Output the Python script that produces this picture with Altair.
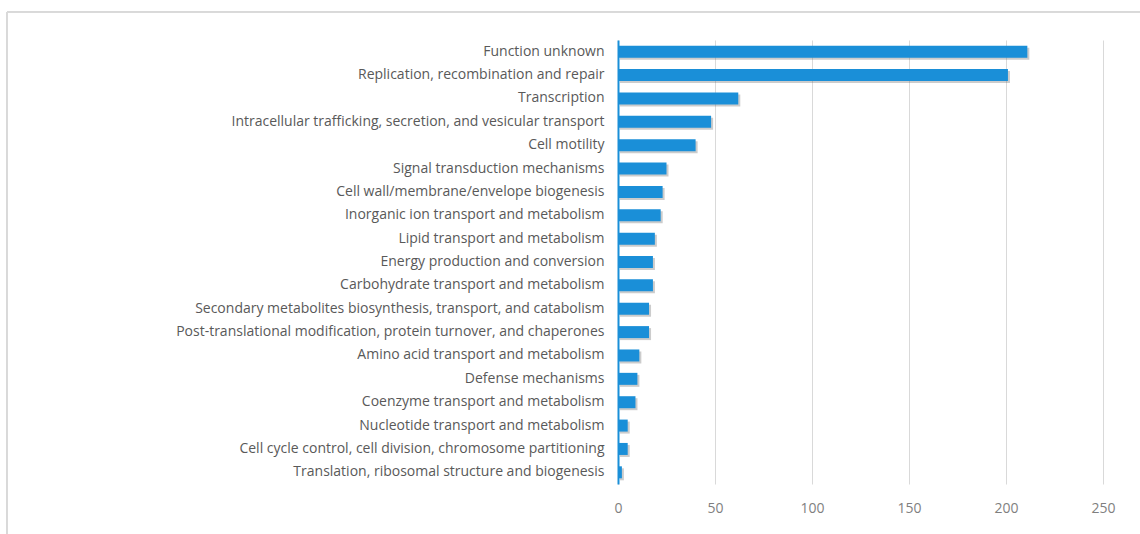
import altair as alt
import pandas as pd

# COG functional categories and gene counts (top to bottom)
categories = [
    "Function unknown",
    "Replication, recombination and repair",
    "Transcription",
    "Intracellular trafficking, secretion, and vesicular transport",
    "Cell motility",
    "Signal transduction mechanisms",
    "Cell wall/membrane/envelope biogenesis",
    "Inorganic ion transport and metabolism",
    "Lipid transport and metabolism",
    "Energy production and conversion",
    "Carbohydrate transport and metabolism",
    "Secondary metabolites biosynthesis, transport, and catabolism",
    "Post-translational modification, protein turnover, and chaperones",
    "Amino acid transport and metabolism",
    "Defense mechanisms",
    "Coenzyme transport and metabolism",
    "Nucleotide transport and metabolism\u00a0\u00a0",
    "Cell cycle control, cell division, chromosome partitioning",
    "Translation, ribosomal structure and biogenesis",
]
counts = [211, 201, 62, 48, 40, 25, 23, 22, 19, 18, 18, 16, 16, 11, 10, 9, 5, 5, 2]
x_ticks = [0, 50, 100, 150, 200, 250]

df = pd.DataFrame({"category": categories, "count": counts})

FONT = "Open Sans"
W, H = 485, 444

y_scale = alt.Scale(paddingInner=0.48, paddingOuter=0.24)
x_scale = alt.Scale(domain=[0, 250], nice=False)

# soft drop shadow under each bar
shadow = alt.Chart(df).mark_bar(
    color="#6e6e6e", opacity=0.35, xOffset=2, yOffset=2, height=12
).encode(
    x=alt.X("count:Q", scale=x_scale),
    y=alt.Y("category:N", sort=categories, scale=y_scale),
)

bars = alt.Chart(df).mark_bar(color="#1a8fd8", height=12).encode(
    x=alt.X("count:Q", scale=x_scale, title=None,
            axis=alt.Axis(values=x_ticks, grid=True, gridColor="#d9d9d9",
                          domain=False, ticks=False, labelPadding=17,
                          labelFlush=False, labelFontSize=14,
                          labelColor="#7f7f7f", labelFont=FONT)),
    y=alt.Y("category:N", sort=categories, title=None, scale=y_scale,
            axis=alt.Axis(domainColor="#1a8fd8", domainWidth=2, ticks=False,
                          labelPadding=14, labelFontSize=14, labelColor="#595959",
                          labelFont=FONT, labelLimit=600)),
)

# outer frame lines (top and left edges of the chart box)
frame_top = alt.Chart(df).mark_rule(color="#d9d9d9", strokeWidth=1).encode(
    x=alt.value(-611), x2=alt.value(W + 60), y=alt.value(-28)
)
frame_left = alt.Chart(df).mark_rule(color="#d9d9d9", strokeWidth=1).encode(
    x=alt.value(-611), y=alt.value(-28), y2=alt.value(H + 60)
)

chart = alt.layer(frame_top, frame_left, shadow, bars).properties(
    width=W, height=H,
    autosize=alt.AutoSizeParams(type="none"),
    padding={"left": 618, "top": 40, "right": 37, "bottom": 50},
    background="white",
).configure_view(stroke=None)

chart.save("out.html", embed_options={"renderer": "svg", "actions": False})
